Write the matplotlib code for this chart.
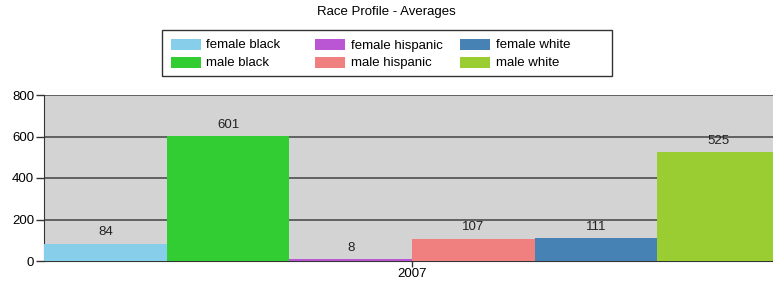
import matplotlib
matplotlib.use("Agg")
import matplotlib.pyplot as plt
import matplotlib.patches as mpatches

# data
categoria = "2007"
series = ["female black", "male black", "female hispanic",
          "male hispanic", "female white", "male white"]
valores = [84, 601, 8, 107, 111, 525]
cores = ["#87CEEB", "#32CD32", "#BA55D3", "#F08080", "#4682B4", "#9ACD32"]

plt.rcParams["font.family"] = ["Liberation Sans", "DejaVu Sans"]
FS = 9.5
W, H = 773, 283


def px(x, y):
    # pixel (top-left origin) -> figure fraction
    return x / W, 1 - y / H


fig = plt.figure(figsize=(W / 100, H / 100), dpi=100)
fig.patch.set_facecolor("white")
ax = fig.add_axes([44 / W, 1 - 261 / H, 736 / W, 166 / H])
ax.set_facecolor("#D3D3D3")

n = len(series)
larg = 1.0 / n
for i, (nome, v, c) in enumerate(zip(series, valores, cores)):
    x = (i - (n - 1) / 2) * larg
    ax.bar(x, v, width=larg, color=c, label=nome, zorder=3, linewidth=0)
    ax.text(x, v + 55, f"{v}", ha="center", va="center", fontsize=FS, color="#222222", zorder=4)

ax.set_xlim(-0.5, 0.5)
ax.set_ylim(0, 800)
ax.set_yticks([0, 200, 400, 600, 800])
ax.set_xticks([0])
ax.set_xticklabels([categoria])
ax.yaxis.grid(True, color="#595959", linewidth=1.3, zorder=1)
ax.set_axisbelow(True)
for s in ["top", "right"]:
    ax.spines[s].set_visible(False)
ax.spines["left"].set_color("#333333")
ax.spines["bottom"].set_color("#333333")
ax.tick_params(axis="y", length=6, width=1, color="#333333", labelsize=FS, pad=1)
ax.tick_params(axis="x", length=4, width=1, color="#333333", labelsize=FS, pad=1)

fig.text(*px(386, 12), "Race Profile - Averages", ha="center", va="center", fontsize=FS)

# legenda com colunas de largura fixa
x0, y0 = px(161.5, 76.5)
x1, y1 = px(612, 30)
fig.add_artist(mpatches.Rectangle((x0, y0), x1 - x0, y1 - y0, transform=fig.transFigure,
                                  facecolor="white", edgecolor="#333333", linewidth=1))
for i, (nome, c) in enumerate(zip(series, cores)):
    col, lin = i // 2, i % 2
    xp = 170.5 + 144.5 * col
    yc = 44.5 + 17.8 * lin
    rx, ry = px(xp, yc + 5.5)
    fig.add_artist(mpatches.Rectangle((rx, ry), 30 / W, 11 / H, transform=fig.transFigure,
                                      facecolor=c, edgecolor="none"))
    fig.text(*px(xp + 36, yc + 1), nome, ha="left", va="center", fontsize=FS)

fig.savefig("out.png", dpi=100)
